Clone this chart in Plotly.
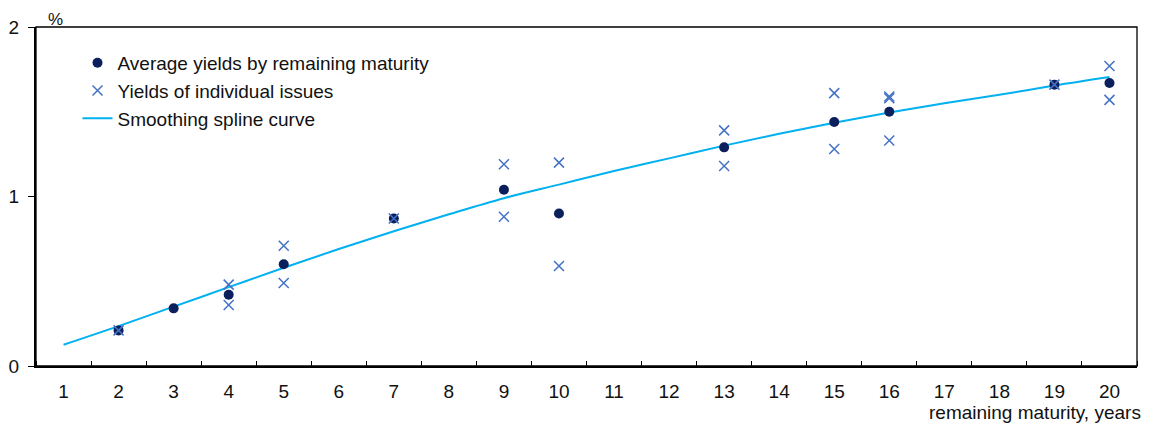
import plotly.graph_objects as go

# Data
avg_maturity = [2, 3, 4, 5, 7, 9, 10, 13, 15, 16, 19, 20]
avg_yield = [0.21, 0.34, 0.42, 0.60, 0.87, 1.04, 0.90, 1.29, 1.44, 1.50, 1.66, 1.67]

issue_maturity = [2, 4, 4, 5, 5, 7, 9, 9, 10, 10, 13, 13, 15, 15, 16, 16, 16, 19, 20, 20]
issue_yield = [0.21, 0.48, 0.36, 0.71, 0.49, 0.87, 1.19, 0.88, 1.20, 0.59,
               1.39, 1.18, 1.61, 1.28, 1.59, 1.58, 1.33, 1.66, 1.77, 1.57]

spline_maturity = list(range(1, 21))
spline_yield = [0.125, 0.235, 0.35, 0.465, 0.58, 0.69, 0.795, 0.895, 0.99, 1.07,
                1.15, 1.225, 1.30, 1.37, 1.435, 1.495, 1.55, 1.60, 1.655, 1.705]

x_tick_labels = [str(v) for v in range(1, 21)]
y_tick_vals = [0, 1, 2]

FONT = "Liberation Sans, Arial, sans-serif"
FS = 19

fig = go.Figure()
fig.add_trace(go.Scatter(
    x=spline_maturity, y=spline_yield, mode="lines", line_shape="spline",
    line=dict(color="#00b0f0", width=2),
    name="Smoothing spline curve", legendrank=3,
))
fig.add_trace(go.Scatter(
    x=avg_maturity, y=avg_yield, mode="markers",
    marker=dict(symbol="circle", size=10, color="#0a1f5c"),
    name="Average yields by remaining maturity", legendrank=1,
))
fig.add_trace(go.Scatter(
    x=issue_maturity, y=issue_yield, mode="markers",
    marker=dict(symbol="x-thin", size=10, line=dict(color="#4472c4", width=1.5)),
    name="Yields of individual issues", legendrank=2,
))

fig.update_layout(
    width=1144, height=419,
    margin=dict(l=28, r=15, t=19, b=61, autoexpand=False),
    paper_bgcolor="white", plot_bgcolor="white",
    font=dict(family=FONT, size=FS, color="#111111"),
    showlegend=True,
    legend=dict(x=0.0377, y=0.95, xanchor="left", yanchor="top",
                bgcolor="rgba(0,0,0,0)", font=dict(size=FS),
                traceorder="normal"),
    xaxis=dict(
        range=[0.5, 20.5], tickmode="array",
        tickvals=spline_maturity, ticktext=x_tick_labels,
        ticks="", showgrid=False, zeroline=False, automargin=False,
        showline=True, linecolor="black", linewidth=2,
        tickfont=dict(size=FS), ticklabelstandoff=7,
        minor=dict(tick0=0.5, dtick=1, ticks="inside", ticklen=5,
                   tickcolor="black", tickwidth=1, showgrid=False),
    ),
    yaxis=dict(
        range=[0, 2], tickmode="array", tickvals=y_tick_vals,
        ticks="outside", ticklen=6, tickcolor="black",
        showgrid=False, zeroline=False, automargin=False,
        showline=True, linecolor="black", linewidth=2,
        tickfont=dict(size=FS), ticklabelstandoff=5,
    ),
    shapes=[dict(type="rect", xref="paper", yref="paper", x0=0, x1=1, y0=0, y1=1,
                 line=dict(color="black", width=1.3), layer="below")],
    annotations=[
        dict(text="%", xref="paper", yref="paper", x=0.018, y=1.0235,
             xanchor="center", yanchor="middle", showarrow=False, font=dict(size=17)),
        dict(text="remaining maturity, years", xref="paper", yref="paper",
             x=1.0054, y=-0.138, xanchor="right", yanchor="middle", showarrow=False,
             font=dict(size=FS)),
    ],
)

fig.write_html("out.html")
